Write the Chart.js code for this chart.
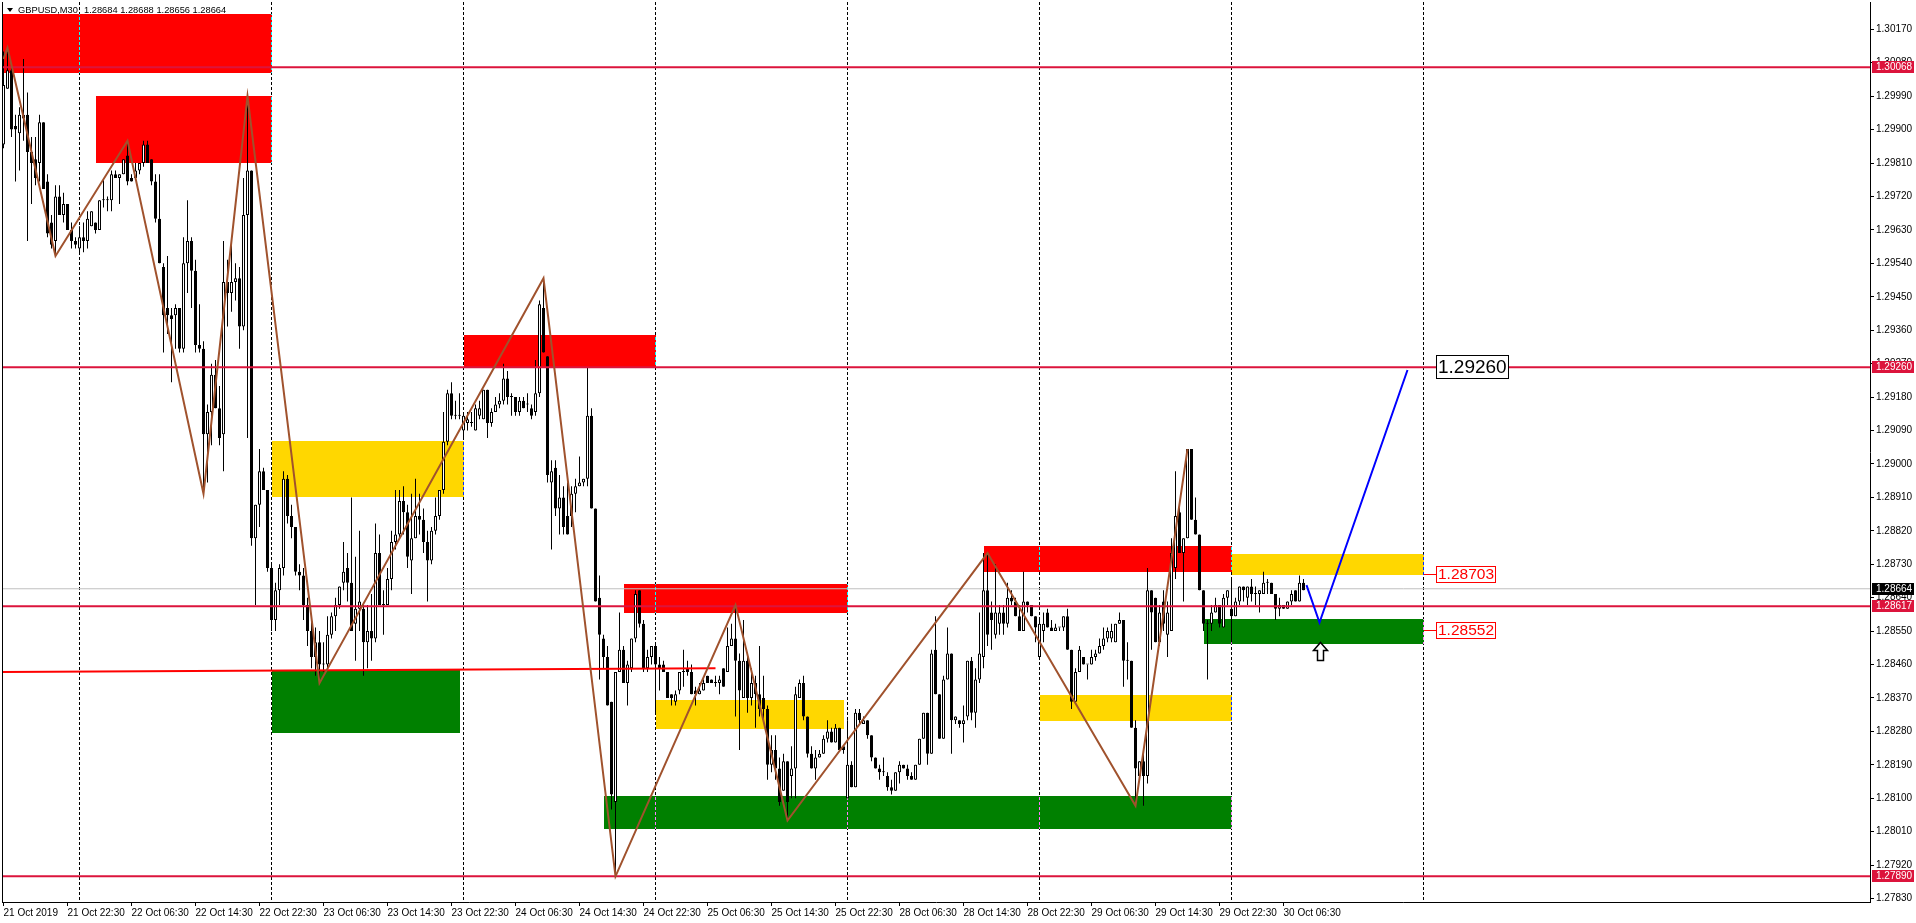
<!DOCTYPE html>
<html><head><meta charset="utf-8">
<script src="https://cdn.jsdelivr.net/npm/chart.js@4.4.1/dist/chart.umd.min.js"></script>
<style>html,body{margin:0;padding:0;background:#fff;overflow:hidden}canvas{display:block}</style>
</head><body>
<canvas id="c" width="1916" height="923"></canvas>
<script>
// ---- GBPUSD M30 bars (index 0 = 21 Oct 2019 14:30) ----
const OPEN = [
1.2986,1.3001,1.3006,1.2991,1.2989,1.2994,1.2994,1.2984,1.2982,1.2981,
1.2992,1.2976,1.2965,1.2960,1.2972,1.2967,1.2970,1.2963,1.2960,1.2958,
1.2961,1.2960,1.2964,1.2965,1.2963,1.2971,1.2971,1.2971,1.2978,1.2977,
1.2978,1.2983,1.2977,1.2977,1.2979,1.2981,1.2986,1.2982,1.2976,1.2966,
1.2953,1.2942,1.2940,1.2940,1.2942,1.2931,1.2954,1.2960,1.2952,1.2932,
1.2931,1.2908,1.2914,1.2924,1.2915,1.2908,1.2949,1.2946,1.2949,1.2950,
1.2937,1.2967,1.2979,1.2880,1.2889,1.2898,1.2893,1.2872,1.2858,1.2866,
1.2872,1.2896,1.2886,1.2883,1.2871,1.2870,1.2862,1.2855,1.2848,1.2852,
1.2846,1.2846,1.2854,1.2859,1.2862,1.2868,1.2872,1.2868,1.2857,1.2861,
1.2861,1.2852,1.2855,1.2853,1.2876,1.2862,1.2862,1.2869,1.2879,1.2881,
1.2890,1.2887,1.2874,1.2880,1.2886,1.2885,1.2879,1.2874,1.2882,1.2886,
1.2893,1.2906,1.2919,1.2913,1.2913,1.2909,1.2911,1.2911,1.2909,1.2913,
1.2912,1.2920,1.2911,1.2914,1.2916,1.2917,1.2923,1.2918,1.2918,1.2914,
1.2917,1.2916,1.2915,1.2914,1.2919,1.2942,1.2929,1.2895,1.2899,1.2888,
1.2891,1.2886,1.2886,1.2892,1.2894,1.2895,1.2896,1.2913,1.2888,1.2864,
1.2853,1.2848,1.2836,1.2809,1.2844,1.2850,1.2841,1.2845,1.2853,1.2866,
1.2857,1.2845,1.2848,1.2851,1.2846,1.2846,1.2844,1.2838,1.2836,1.2839,
1.2844,1.2845,1.2844,1.2839,1.2838,1.2839,1.2843,1.2842,1.2841,1.2841,
1.2845,1.2844,1.2851,1.2853,1.2847,1.2837,1.2847,1.2837,1.2841,1.2838,
1.2837,1.2834,1.2819,1.2823,1.2818,1.2812,1.2820,1.2816,1.2818,1.2837,
1.2841,1.2832,1.2822,1.2818,1.2821,1.2822,1.2826,1.2828,1.2825,1.2829,
1.2824,1.2810,1.2819,1.2813,1.2833,1.2830,1.2831,1.2827,1.2821,1.2818,
1.2817,1.2816,1.2813,1.2812,1.2817,1.2819,1.2818,1.2816,1.2815,1.2819,
1.2826,1.2833,1.2822,1.2850,1.2838,1.2826,1.2842,1.2849,1.2831,1.2831,
1.2830,1.2832,1.2847,1.2833,1.2842,1.2848,1.2866,1.2860,1.2854,1.2857,
1.2860,1.2857,1.2864,1.2863,1.2859,1.2855,1.2863,1.2862,1.2859,1.2848,
1.2855,1.2860,1.2856,1.2855,1.2856,1.2856,1.2859,1.2850,1.2836,1.2844,
1.2848,1.2846,1.2846,1.2848,1.2849,1.2851,1.2853,1.2853,1.2852,1.2857,
1.2858,1.2847,1.2847,1.2829,1.2816,1.2820,1.2816,1.2866,1.2864,1.2852,
1.2863,1.2854,1.2855,1.2872,1.2887,1.2876,1.2880,1.2904,1.2885,1.2881,
1.2866,1.2857,1.2857,1.2860,1.2862,1.2856,1.2864,1.2861,1.2859,1.2863,
1.2867,1.2864,1.2867,1.2865,1.2865,1.2865,1.2868,1.2868,1.2865,1.2861,
1.2862,1.2861,1.2863,1.2866,1.2863,1.2868];
const HIGH = [
1.3011,1.3012,1.3007,1.2994,1.2996,1.3009,1.3000,1.2988,1.2988,1.2994,
1.2992,1.2978,1.2967,1.2975,1.2975,1.2973,1.2970,1.2965,1.2961,1.2964,
1.2965,1.2968,1.2968,1.2965,1.2971,1.2977,1.2972,1.2979,1.2979,1.2978,
1.2982,1.2987,1.2978,1.2981,1.2981,1.2987,1.2987,1.2982,1.2978,1.2978,
1.2954,1.2956,1.2942,1.2943,1.2942,1.2961,1.2971,1.2961,1.2955,1.2943,
1.2933,1.2916,1.2927,1.2928,1.2921,1.2960,1.2955,1.2960,1.2954,1.2953,
1.2977,1.2999,1.2979,1.2889,1.2904,1.2899,1.2893,1.2873,1.2868,1.2873,
1.2898,1.2897,1.2889,1.2883,1.2873,1.2872,1.2864,1.2858,1.2856,1.2855,
1.2852,1.2859,1.2860,1.2864,1.2867,1.2879,1.2876,1.2891,1.2875,1.2882,
1.2862,1.2862,1.2865,1.2884,1.2881,1.2866,1.2872,1.2882,1.2893,1.2893,
1.2894,1.2889,1.2892,1.2896,1.2892,1.2888,1.2882,1.2883,1.2891,1.2893,
1.2914,1.2920,1.2922,1.2917,1.2919,1.2914,1.2914,1.2914,1.2916,1.2917,
1.2920,1.2920,1.2915,1.2918,1.2919,1.2927,1.2925,1.2919,1.2918,1.2918,
1.2918,1.2919,1.2916,1.2928,1.2944,1.2950,1.2929,1.2901,1.2901,1.2897,
1.2894,1.2895,1.2894,1.2896,1.2902,1.2896,1.2926,1.2915,1.2888,1.2870,
1.2854,1.2851,1.2836,1.2844,1.2860,1.2851,1.2847,1.2853,1.2866,1.2866,
1.2858,1.2850,1.2851,1.2852,1.2848,1.2847,1.2844,1.2838,1.2839,1.2844,
1.2850,1.2847,1.2846,1.2840,1.2841,1.2842,1.2843,1.2842,1.2843,1.2843,
1.2845,1.2856,1.2857,1.2862,1.2849,1.2858,1.2848,1.2845,1.2843,1.2851,
1.2843,1.2835,1.2827,1.2827,1.2821,1.2822,1.2820,1.2824,1.2840,1.2842,
1.2843,1.2832,1.2824,1.2823,1.2823,1.2827,1.2831,1.2829,1.2830,1.2829,
1.2824,1.2831,1.2820,1.2834,1.2834,1.2832,1.2831,1.2827,1.2821,1.2819,
1.2821,1.2817,1.2815,1.2817,1.2820,1.2819,1.2819,1.2817,1.2819,1.2826,
1.2833,1.2833,1.2850,1.2859,1.2838,1.2843,1.2856,1.2849,1.2832,1.2831,
1.2835,1.2847,1.2848,1.2845,1.2860,1.2876,1.2876,1.2863,1.2873,1.2862,
1.2862,1.2868,1.2866,1.2864,1.2862,1.2871,1.2863,1.2862,1.2859,1.2858,
1.2860,1.2861,1.2858,1.2857,1.2856,1.2859,1.2861,1.2850,1.2845,1.2851,
1.2848,1.2846,1.2850,1.2850,1.2853,1.2856,1.2856,1.2857,1.2857,1.2860,
1.2858,1.2852,1.2847,1.2831,1.2820,1.2823,1.2872,1.2866,1.2864,1.2862,
1.2866,1.2863,1.2880,1.2898,1.2889,1.2880,1.2904,1.2904,1.2891,1.2881,
1.2866,1.2858,1.2862,1.2864,1.2862,1.2865,1.2866,1.2869,1.2864,1.2867,
1.2867,1.2867,1.2869,1.2867,1.2866,1.2871,1.2869,1.2868,1.2865,1.2864,
1.2862,1.2863,1.2866,1.2866,1.2870,1.2869];
const LOW = [
1.2985,1.3001,1.2988,1.2976,1.2979,1.2987,1.2960,1.2970,1.2975,1.2976,
1.2974,1.2961,1.2958,1.2956,1.2967,1.2965,1.2963,1.2958,1.2958,1.2957,
1.2957,1.2958,1.2964,1.2962,1.2963,1.2969,1.2968,1.2968,1.2977,1.2970,
1.2978,1.2975,1.2976,1.2977,1.2978,1.2980,1.2981,1.2975,1.2965,1.2954,
1.2930,1.2935,1.2922,1.2931,1.2930,1.2930,1.2946,1.2942,1.2930,1.2930,
1.2892,1.2895,1.2905,1.2915,1.2905,1.2898,1.2937,1.2941,1.2944,1.2931,
1.2936,1.2907,1.2878,1.2862,1.2883,1.2893,1.2871,1.2855,1.2855,1.2862,
1.2870,1.2884,1.2880,1.2870,1.2866,1.2858,1.2851,1.2845,1.2843,1.2841,
1.2844,1.2845,1.2853,1.2855,1.2861,1.2866,1.2863,1.2855,1.2847,1.2855,
1.2843,1.2845,1.2847,1.2852,1.2862,1.2854,1.2862,1.2866,1.2877,1.2880,
1.2881,1.2872,1.2865,1.2880,1.2881,1.2876,1.2863,1.2873,1.2881,1.2885,
1.2892,1.2905,1.2912,1.2912,1.2912,1.2907,1.2909,1.2910,1.2909,1.2912,
1.2912,1.2907,1.2910,1.2914,1.2915,1.2916,1.2916,1.2913,1.2913,1.2913,
1.2915,1.2914,1.2912,1.2913,1.2918,1.2930,1.2895,1.2877,1.2886,1.2881,
1.2881,1.2881,1.2883,1.2887,1.2894,1.2894,1.2894,1.2888,1.2863,1.2842,
1.2845,1.2835,1.2807,1.2789,1.2844,1.2841,1.2835,1.2844,1.2852,1.2856,
1.2844,1.2844,1.2846,1.2833,1.2839,1.2844,1.2837,1.2835,1.2835,1.2838,
1.2840,1.2843,1.2838,1.2835,1.2838,1.2839,1.2841,1.2841,1.2840,1.2838,
1.2840,1.2844,1.2851,1.2832,1.2823,1.2837,1.2833,1.2835,1.2829,1.2832,
1.2831,1.2815,1.2817,1.2815,1.2808,1.2812,1.2804,1.2810,1.2810,1.2837,
1.2831,1.2821,1.2818,1.2815,1.2821,1.2822,1.2825,1.2825,1.2825,1.2823,
1.2822,1.2810,1.2813,1.2813,1.2830,1.2830,1.2826,1.2820,1.2818,1.2815,
1.2816,1.2812,1.2811,1.2812,1.2814,1.2818,1.2815,1.2815,1.2815,1.2819,
1.2826,1.2819,1.2822,1.2838,1.2826,1.2826,1.2842,1.2822,1.2830,1.2829,
1.2825,1.2831,1.2831,1.2829,1.2841,1.2845,1.2851,1.2850,1.2853,1.2854,
1.2854,1.2856,1.2862,1.2859,1.2855,1.2855,1.2860,1.2859,1.2852,1.2848,
1.2852,1.2856,1.2855,1.2855,1.2855,1.2855,1.2850,1.2834,1.2836,1.2844,
1.2846,1.2842,1.2846,1.2847,1.2849,1.2850,1.2852,1.2852,1.2852,1.2857,
1.2840,1.2842,1.2829,1.2808,1.2815,1.2808,1.2814,1.2850,1.2852,1.2851,
1.2855,1.2848,1.2855,1.2869,1.2876,1.2863,1.2880,1.2885,1.2881,1.2866,
1.2855,1.2842,1.2855,1.2860,1.2856,1.2856,1.2862,1.2852,1.2859,1.2862,
1.2863,1.2862,1.2863,1.2862,1.2860,1.2865,1.2865,1.2865,1.2858,1.2859,
1.2861,1.2861,1.2862,1.2863,1.2863,1.2866];
const CLOSE = [
1.3002,1.3006,1.2990,1.2990,1.2994,1.2993,1.2984,1.2981,1.2977,1.2992,
1.2974,1.2962,1.2959,1.2972,1.2967,1.2970,1.2963,1.2960,1.2959,1.2961,
1.2960,1.2966,1.2968,1.2963,1.2971,1.2971,1.2971,1.2978,1.2977,1.2978,
1.2982,1.2976,1.2976,1.2979,1.2981,1.2986,1.2981,1.2976,1.2966,1.2954,
1.2940,1.2940,1.2939,1.2942,1.2931,1.2954,1.2960,1.2952,1.2932,1.2931,
1.2908,1.2914,1.2924,1.2915,1.2907,1.2949,1.2946,1.2949,1.2950,1.2937,
1.2967,1.2979,1.2880,1.2889,1.2898,1.2893,1.2872,1.2858,1.2866,1.2872,
1.2896,1.2886,1.2883,1.2871,1.2870,1.2862,1.2855,1.2848,1.2852,1.2846,
1.2846,1.2854,1.2859,1.2862,1.2867,1.2871,1.2868,1.2855,1.2861,1.2863,
1.2852,1.2855,1.2853,1.2876,1.2862,1.2862,1.2869,1.2879,1.2881,1.2890,
1.2887,1.2875,1.2880,1.2886,1.2885,1.2879,1.2874,1.2882,1.2886,1.2893,
1.2906,1.2919,1.2913,1.2913,1.2913,1.2913,1.2912,1.2911,1.2915,1.2915,
1.2920,1.2911,1.2914,1.2916,1.2917,1.2923,1.2918,1.2918,1.2914,1.2917,
1.2915,1.2916,1.2913,1.2919,1.2943,1.2930,1.2897,1.2898,1.2888,1.2891,
1.2883,1.2881,1.2892,1.2894,1.2895,1.2896,1.2913,1.2888,1.2863,1.2854,
1.2848,1.2835,1.2811,1.2844,1.2850,1.2841,1.2846,1.2853,1.2865,1.2857,
1.2845,1.2848,1.2851,1.2846,1.2845,1.2844,1.2837,1.2837,1.2838,1.2844,
1.2844,1.2844,1.2838,1.2838,1.2839,1.2841,1.2841,1.2841,1.2841,1.2842,
1.2840,1.2851,1.2853,1.2847,1.2839,1.2847,1.2837,1.2841,1.2838,1.2834,
1.2834,1.2819,1.2823,1.2818,1.2809,1.2820,1.2809,1.2818,1.2838,1.2841,
1.2832,1.2822,1.2818,1.2821,1.2822,1.2826,1.2828,1.2825,1.2829,1.2823,
1.2823,1.2819,1.2813,1.2833,1.2831,1.2831,1.2827,1.2821,1.2818,1.2817,
1.2817,1.2813,1.2812,1.2817,1.2819,1.2818,1.2816,1.2815,1.2819,1.2826,
1.2833,1.2822,1.2849,1.2838,1.2826,1.2842,1.2849,1.2831,1.2832,1.2830,
1.2831,1.2847,1.2833,1.2842,1.2849,1.2866,1.2854,1.2858,1.2860,1.2860,
1.2857,1.2864,1.2863,1.2859,1.2855,1.2863,1.2862,1.2859,1.2856,1.2857,
1.2857,1.2856,1.2855,1.2856,1.2856,1.2859,1.2850,1.2836,1.2844,1.2850,
1.2846,1.2846,1.2848,1.2849,1.2851,1.2853,1.2855,1.2855,1.2857,1.2858,
1.2847,1.2847,1.2829,1.2818,1.2820,1.2816,1.2866,1.2860,1.2852,1.2860,
1.2857,1.2860,1.2876,1.2886,1.2876,1.2880,1.2904,1.2885,1.2881,1.2866,
1.2857,1.2857,1.2860,1.2862,1.2857,1.2864,1.2866,1.2859,1.2863,1.2867,
1.2866,1.2867,1.2865,1.2865,1.2866,1.2868,1.2868,1.2865,1.2861,1.2862,
1.2861,1.2863,1.2865,1.2863,1.2868,1.2866];

// ---- axis ticks ----
const TIME_TICK_BARS = [0,16,32,48,64,80,96,112,128,144,160,176,192,208,224,240,256,272,288,304,320];
const TIME_LABELS = ['21 Oct 2019','21 Oct 22:30','22 Oct 06:30','22 Oct 14:30','22 Oct 22:30','23 Oct 06:30','23 Oct 14:30','23 Oct 22:30','24 Oct 06:30','24 Oct 14:30','24 Oct 22:30','25 Oct 06:30','25 Oct 14:30','25 Oct 22:30','28 Oct 06:30','28 Oct 14:30','28 Oct 22:30','29 Oct 06:30','29 Oct 14:30','29 Oct 22:30','30 Oct 06:30'];
const PRICE_TICKS = [1.27830,1.27920,1.28010,1.28100,1.28190,1.28280,1.28370,1.28460,1.28550,1.28640,1.28730,1.28820,1.28910,1.29000,1.29090,1.29180,1.29270,1.29360,1.29450,1.29540,1.29630,1.29720,1.29810,1.29900,1.29990,1.30080,1.30170];
const DAY_GRID_BARS = [19,67,115,163,211,259,307,355];

// ---- drawn objects ----
const LEVELS = [1.30068, 1.29260, 1.28617, 1.27890];
const CURRENT_PRICE = 1.28664;
const ZIGZAG_BAR   = [0, 1, 13, 31, 50, 61, 79, 135, 153, 183, 196, 246, 283, 296];
const ZIGZAG_PRICE = [1.3009,1.3012,1.2956,1.2987,1.2892,1.2999,1.2841,1.2950,1.2789,1.2862,1.2804,1.2876,1.2808,1.2904];
const TREND_BAR = [-1, 178];
const TREND_PRICE = [1.2844, 1.2845];
const FORECAST_BAR = [325.75, 329, 351];
const FORECAST_PRICE = [1.28674, 1.28573, 1.29253];
const ZONE_FROM = [-0.1, 23, 67, 67, 115, 155, 150, 163, 245, 259, 307, 300];
const ZONE_TO   = [67, 67, 115, 114, 163, 211, 307, 210, 307, 307, 355, 355];
const ZONE_HIGH = [1.30210,1.29990,1.29061,1.28444,1.29346,1.28676,1.28106,1.28364,1.28778,1.28377,1.28758,1.28582];
const ZONE_LOW  = [1.30052,1.29810,1.28911,1.28276,1.29258,1.28599,1.28016,1.28286,1.28709,1.28308,1.28700,1.28516];
const ZONE_KIND = ['supply','supply','zone','demand','supply','supply','demand','zone','supply','zone','zone','demand'];
const TAG_TEXT  = ['1.29260','1.28703','1.28552'];
const TAG_PRICE = [1.29260, 1.28703, 1.28552];
const TAG_KIND  = ['target','level','level'];
const TAG_BAR = 358, TAG_LINK_BAR = 355;
const ARROW_BAR = 329, ARROW_PRICE = 1.2852;
const HEADER_SYMBOL = 'GBPUSD,M30';
const HEADER_OHLC = '1.28684 1.28688 1.28656 1.28664';

// ---- styles ----
const ZONE_COLORS = {supply:'#FF0000', demand:'#008000', zone:'#FFD700'};
const CRIMSON = '#DC143C';
const FONT = '"Liberation Sans", Arial, sans-serif';

const idx = CLOSE.map((_, i) => i);
const wickData = idx.map(i => ({x: i, y: [LOW[i], HIGH[i]]}));
const bodyData = idx.map(i => ({x: i, y: [OPEN[i], CLOSE[i]]}));
const bodyFill = idx.map(i => CLOSE[i] >= OPEN[i] ? '#FFFFFF' : '#000000');

function lineSet(xs, ys, color, width, order){
  return {type:'line', data: xs.map((x,k)=>({x, y: ys[k]})), borderColor: color, borderWidth: width,
          pointRadius: 0, tension: 0, fill: false, order};
}
const datasets = [
  {type:'bar', data: wickData, backgroundColor:'#000', borderWidth:0, barThickness:1, minBarLength:1,
   grouped:false, inflateAmount:0, order:21},
  {type:'bar', data: bodyData, backgroundColor: bodyFill, borderColor:'#000', borderWidth:1, borderSkipped:false,
   barThickness:3, minBarLength:1, grouped:false, inflateAmount:0, order:20},
  lineSet([-1, 480], [CURRENT_PRICE, CURRENT_PRICE], '#C0C0C0', 1, 30),
  lineSet(TREND_BAR, TREND_PRICE, '#FF0000', 2, 5),
  ...LEVELS.map(p => lineSet([-1, 480], [p, p], CRIMSON, 2, 4)),
  lineSet(ZIGZAG_BAR, ZIGZAG_PRICE, '#A0522D', 2, 2),
  lineSet(FORECAST_BAR, FORECAST_PRICE, '#0000FF', 2, 1)
];

const X = (c, v) => c.scales.x.getPixelForValue(v);
const Y = (c, v) => c.scales.y.getPixelForValue(v);

const overlay = {
  id: 'overlay',
  beforeDraw(chart){
    const ctx = chart.ctx; ctx.save(); ctx.fillStyle = '#fff'; ctx.fillRect(0, 0, chart.width, chart.height); ctx.restore();
  },
  beforeDatasetsDraw(chart){
    const {ctx, chartArea: a} = chart;
    ctx.save();
    ctx.beginPath(); ctx.rect(a.left, a.top, a.right - a.left, a.bottom - a.top); ctx.clip();
    for (let k = 0; k < ZONE_FROM.length; k++){
      const x0 = Math.round(X(chart, ZONE_FROM[k])), x1 = Math.round(X(chart, ZONE_TO[k]));
      const y0 = Math.round(Y(chart, ZONE_HIGH[k])), y1 = Math.round(Y(chart, ZONE_LOW[k]));
      ctx.fillStyle = ZONE_COLORS[ZONE_KIND[k]];
      ctx.fillRect(x0, y0, x1 - x0, y1 - y0);
    }
    ctx.globalCompositeOperation = 'difference';
    ctx.strokeStyle = '#fff'; ctx.lineWidth = 1; ctx.setLineDash([3, 2]);
    for (const b of DAY_GRID_BARS){
      const x = Math.floor(X(chart, b)) + 0.5;
      ctx.beginPath(); ctx.moveTo(x, a.top); ctx.lineTo(x, a.bottom); ctx.stroke();
    }
    ctx.restore();
  },
  afterDraw(chart){
    const {ctx, chartArea: a} = chart;
    ctx.save();
    // left frame
    ctx.strokeStyle = '#000'; ctx.lineWidth = 1;
    ctx.beginPath(); ctx.moveTo(a.left + 0.5, a.top); ctx.lineTo(a.left + 0.5, a.bottom); ctx.stroke();
    // header
    ctx.fillStyle = '#000';
    ctx.beginPath(); ctx.moveTo(7, 8); ctx.lineTo(13, 8); ctx.lineTo(10, 12); ctx.closePath(); ctx.fill();
    ctx.font = '9.3px ' + FONT; ctx.textBaseline = 'middle'; ctx.textAlign = 'left';
    ctx.fillText(HEADER_SYMBOL, 18, 10.5);
    ctx.fillText(HEADER_OHLC, 84, 10.5);
    // text tags
    for (let k = 0; k < TAG_TEXT.length; k++){
      const y = Math.round(Y(chart, TAG_PRICE[k]));
      const xl = Math.round(X(chart, TAG_BAR));
      if (TAG_KIND[k] === 'target'){
        ctx.font = '19px ' + FONT;
        const w = Math.round(ctx.measureText(TAG_TEXT[k]).width) + 3;
        ctx.fillStyle = '#fff'; ctx.fillRect(xl, y - 12, w, 24);
        ctx.strokeStyle = '#000'; ctx.lineWidth = 1; ctx.strokeRect(xl + 0.5, y - 11.5, w, 23);
        ctx.fillStyle = '#000'; ctx.textBaseline = 'middle'; ctx.fillText(TAG_TEXT[k], xl + 2, y + 1);
      } else {
        ctx.font = '15.5px ' + FONT;
        const w = Math.round(ctx.measureText(TAG_TEXT[k]).width) + 3;
        const xz = Math.round(X(chart, TAG_LINK_BAR));
        ctx.strokeStyle = '#FF0000'; ctx.lineWidth = 1;
        ctx.beginPath(); ctx.moveTo(xz, y + 0.5); ctx.lineTo(xl, y + 0.5); ctx.stroke();
        ctx.fillStyle = '#fff'; ctx.fillRect(xl, y - 8, w, 17);
        ctx.strokeRect(xl + 0.5, y - 8 + 0.5, w, 16);
        ctx.fillStyle = '#FF0000'; ctx.textBaseline = 'middle'; ctx.fillText(TAG_TEXT[k], xl + 2, y + 1);
      }
    }
    // hollow up arrow
    const cx = Math.round(X(chart, ARROW_BAR)) + 0.5, ty = Math.round(Y(chart, ARROW_PRICE)) + 0.5;
    ctx.beginPath();
    ctx.moveTo(cx, ty); ctx.lineTo(cx + 7, ty + 8); ctx.lineTo(cx + 3, ty + 8); ctx.lineTo(cx + 3, ty + 18);
    ctx.lineTo(cx - 3, ty + 18); ctx.lineTo(cx - 3, ty + 8); ctx.lineTo(cx - 7, ty + 8); ctx.closePath();
    ctx.fillStyle = '#fff'; ctx.fill(); ctx.strokeStyle = '#000'; ctx.lineWidth = 1.5; ctx.stroke();
    // axis price marks
    ctx.font = '10px ' + FONT; ctx.textBaseline = 'middle'; ctx.textAlign = 'left';
    const marks = LEVELS.map(p => [p, CRIMSON]).concat([[CURRENT_PRICE, '#000']]);
    for (const [p, col] of marks){
      const y = Math.round(Y(chart, p));
      ctx.fillStyle = col; ctx.fillRect(a.right + 2, y - 6, 42, 12);
      ctx.fillStyle = '#fff'; ctx.fillText(p.toFixed(5), a.right + 6, y + 0.5);
    }
    ctx.restore();
  }
};

new Chart(document.getElementById('c'), {
  type: 'bar',
  data: {datasets},
  plugins: [overlay],
  options: {
    responsive: false, animation: false, devicePixelRatio: 1, events: [],
    layout: {padding: {left: 2, top: 2, right: 0, bottom: 0}},
    plugins: {legend: {display: false}, tooltip: {enabled: false}, title: {display: false}},
    scales: {
      x: {
        type: 'linear', min: -0.375, max: 466.625, offset: false, position: 'bottom',
        afterBuildTicks: s => { s.ticks = TIME_TICK_BARS.map(v => ({value: v})); },
        afterFit: s => { s.height = 21; s.paddingLeft = 0; s.paddingRight = 0; },
        grid: {display: true, drawOnChartArea: false, drawTicks: true, tickLength: 4, color: '#000', offset: false},
        border: {display: true, color: '#000', width: 1},
        ticks: {autoSkip: false, maxRotation: 0, minRotation: 0, align: 'start', padding: 1, color: '#000',
                font: {family: FONT, size: 10}, callback: (v, i) => TIME_LABELS[i]}
      },
      y: {
        type: 'linear', position: 'right', min: 1.278208, max: 1.302435,
        afterBuildTicks: s => { s.ticks = PRICE_TICKS.map(v => ({value: v})); },
        afterFit: s => { s.width = 46; s.paddingTop = 0; s.paddingBottom = 0; },
        grid: {display: true, drawOnChartArea: false, drawTicks: true, tickLength: 4, color: '#000'},
        border: {display: true, color: '#000', width: 1},
        ticks: {padding: 2, color: '#000', font: {family: FONT, size: 10}, callback: v => Number(v).toFixed(5)}
      }
    }
  }
});
</script>
</body></html>
